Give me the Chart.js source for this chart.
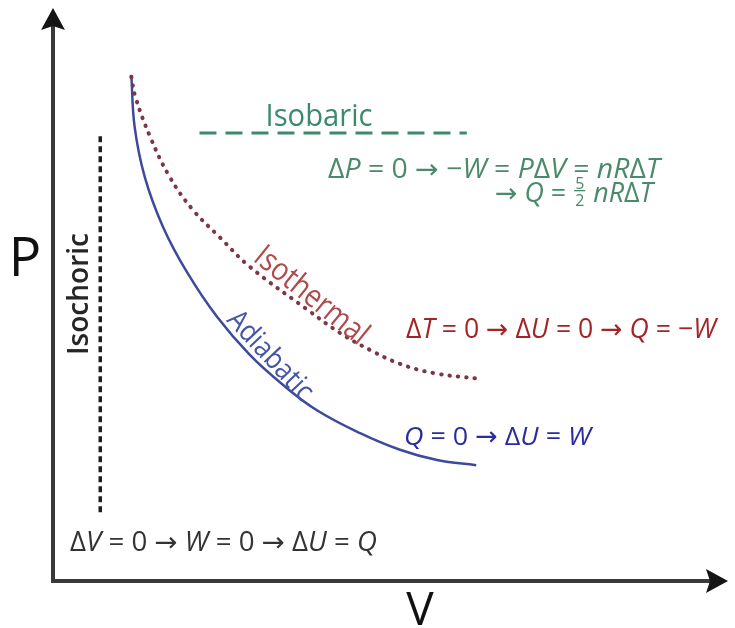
<!DOCTYPE html>
<html>
<head>
<meta charset="utf-8">
<script src="https://cdn.jsdelivr.net/npm/chart.js@4.4.1/dist/chart.umd.min.js"></script>
<style>
  html, body { margin: 0; padding: 0; background: #fff; }
  #wrap { width: 735px; height: 628px; position: relative; }
</style>
</head>
<body>
<div id="wrap"><canvas id="pv"></canvas></div>
<script>
// P-V diagram, arbitrary units (V across, P up)
const adiabaticV = [1.16, 1.21, 1.36, 1.63, 1.99, 2.43, 2.92, 3.41, 3.91, 4.55, 5.14, 5.69, 6.27];
const adiabaticP = [8.83, 7.92, 7.05, 6.18, 5.38, 4.61, 3.94, 3.42, 2.98, 2.58, 2.29, 2.11, 2.02];

const isothermalV = [1.16, 1.22, 1.44, 1.73, 2.07, 2.47, 2.92, 3.81, 4.25, 4.70, 5.14, 5.63, 6.30];
const isothermalP = [8.80, 8.45, 7.75, 7.05, 6.48, 6.00, 5.48, 4.70, 4.33, 4.03, 3.79, 3.63, 3.53];

const isobaricV = [2.17, 6.13];
const isobaricP = [7.82, 7.82];

const isochoricV = [0.70, 0.70];
const isochoricP = [1.20, 7.78];

const toPoints = (xs, ys) => xs.map((x, i) => ({ x: x, y: ys[i] }));

const FONT = '"Open Sans", "DejaVu Sans", sans-serif';

// letters italic, digits / operators upright, '§' = the 5/2 fraction
function glyphFont(ch, size) {
  return (/[A-Za-z]/.test(ch) ? 'italic ' : '') + size + 'px ' + FONT;
}
function mathWidth(ctx, str, size) {
  let w = 0;
  for (const ch of str) {
    if (ch === '§') {
      ctx.font = Math.round(size * 0.6) + 'px ' + FONT;
      w += ctx.measureText('5').width + 4;
      continue;
    }
    ctx.font = glyphFont(ch, size);
    w += ctx.measureText(ch).width;
  }
  return w;
}
function drawMath(ctx, str, x0, y0, size, color, targetW) {
  const k = targetW / mathWidth(ctx, str, size);
  ctx.save();
  ctx.translate(x0, y0);
  ctx.scale(k, 1);
  ctx.fillStyle = color;
  ctx.strokeStyle = color;
  ctx.textAlign = 'left';
  ctx.textBaseline = 'alphabetic';
  let x = 0;
  for (const ch of str) {
    if (ch === '§') {
      const small = Math.round(size * 0.6);
      ctx.font = small + 'px ' + FONT;
      const dw = ctx.measureText('5').width;
      ctx.fillText('5', x + 2, -size * 0.49);
      ctx.lineWidth = 1.3;
      ctx.beginPath();
      ctx.moveTo(x + 1, -size * 0.42);
      ctx.lineTo(x + dw + 3, -size * 0.42);
      ctx.stroke();
      ctx.fillText('2', x + 2, size * 0.13);
      x += dw + 4;
      continue;
    }
    ctx.font = glyphFont(ch, size);
    ctx.fillText(ch, x, 0);
    x += ctx.measureText(ch).width;
  }
  ctx.restore();
}
function fitText(ctx, text, x, y, w, font, color, angle) {
  ctx.save();
  ctx.translate(x, y);
  ctx.rotate(angle || 0);
  ctx.font = font;
  const k = w / ctx.measureText(text).width;
  ctx.scale(k, 1);
  ctx.fillStyle = color;
  ctx.textAlign = 'center';
  ctx.textBaseline = 'middle';
  ctx.fillText(text, 0, 0);
  ctx.restore();
}

const annotations = {
  id: 'annotations',
  afterDraw(chart) {
    const { ctx, chartArea: a } = chart;
    ctx.save();

    // axes with arrow heads
    ctx.strokeStyle = '#3a3a3a';
    ctx.lineWidth = 4;
    ctx.lineJoin = 'miter';
    ctx.beginPath();
    ctx.moveTo(a.left, a.top + 18);
    ctx.lineTo(a.left, a.bottom);
    ctx.lineTo(a.right - 18, a.bottom);
    ctx.stroke();
    ctx.fillStyle = '#151515';
    ctx.beginPath();
    ctx.moveTo(a.left, a.top);
    ctx.lineTo(a.left + 12, a.top + 22);
    ctx.lineTo(a.left, a.top + 18);
    ctx.lineTo(a.left - 12, a.top + 22);
    ctx.closePath();
    ctx.fill();
    ctx.beginPath();
    ctx.moveTo(a.right, a.bottom);
    ctx.lineTo(a.right - 22, a.bottom - 12);
    ctx.lineTo(a.right - 18, a.bottom);
    ctx.lineTo(a.right - 22, a.bottom + 12);
    ctx.closePath();
    ctx.fill();

    // axis letters
    ctx.fillStyle = '#111';
    ctx.textAlign = 'center';
    ctx.textBaseline = 'alphabetic';
    ctx.font = '54px ' + FONT;
    ctx.fillText('P', 25, 276);
    ctx.font = '46px ' + FONT;
    ctx.fillText('V', 420, 625);

    // curve names
    fitText(ctx, 'Isobaric', 319, 117, 107, '31px ' + FONT, '#3b8a6c', 0);
    fitText(ctx, 'Isochoric', 80, 294, 122, '600 29px ' + FONT, '#262626', -Math.PI / 2);
    fitText(ctx, 'Isothermal', 311, 296, 137, '32px ' + FONT, '#b04a4a', 39 * Math.PI / 180);
    fitText(ctx, 'Adiabatic', 270, 356, 112, '29px ' + FONT, '#4553a8', 47 * Math.PI / 180);

    // relations
    drawMath(ctx, 'ΔP = 0 → −W = PΔV = nRΔT', 328, 178, 27, '#4a8a6a', 332);
    drawMath(ctx, '→ Q = § nRΔT', 495, 202, 27, '#4a8a6a', 158);
    drawMath(ctx, 'ΔT = 0 → ΔU = 0 → Q = −W', 406, 338, 27, '#a32424', 310);
    drawMath(ctx, 'Q = 0 → ΔU = W', 404, 445, 26, '#2b2b9b', 187);
    drawMath(ctx, 'ΔV = 0 → W = 0 → ΔU = Q', 70, 551, 27, '#333333', 307);

    ctx.restore();
  }
};

const ctx = document.getElementById('pv').getContext('2d');
new Chart(ctx, {
  type: 'line',
  data: {
    datasets: [
      {
        label: 'Isochoric',
        data: toPoints(isochoricV, isochoricP),
        borderColor: '#1e1e1e',
        borderWidth: 3.5,
        borderDash: [6, 4],
        pointRadius: 0
      },
      {
        label: 'Isobaric',
        data: toPoints(isobaricV, isobaricP),
        borderColor: '#3d8a6b',
        borderWidth: 3,
        borderDash: [17, 9],
        pointRadius: 0
      },
      {
        label: 'Isothermal',
        data: toPoints(isothermalV, isothermalP),
        borderColor: '#7d3646',
        borderWidth: 4,
        borderDash: [0.5, 8],
        borderCapStyle: 'round',
        tension: 0.4,
        pointRadius: 0
      },
      {
        label: 'Adiabatic',
        data: toPoints(adiabaticV, adiabaticP),
        borderColor: '#3d4a9c',
        borderWidth: 2.5,
        tension: 0.4,
        pointRadius: 0
      }
    ]
  },
  options: {
    responsive: true,
    maintainAspectRatio: false,
    animation: false,
    layout: { padding: { left: 53, right: 7, top: 8, bottom: 47 } },
    scales: {
      x: { type: 'linear', min: 0, max: 10, display: false },
      y: { type: 'linear', min: 0, max: 10, display: false }
    },
    plugins: {
      legend: { display: false },
      tooltip: { enabled: false }
    }
  },
  plugins: [annotations]
});
</script>
</body>
</html>
